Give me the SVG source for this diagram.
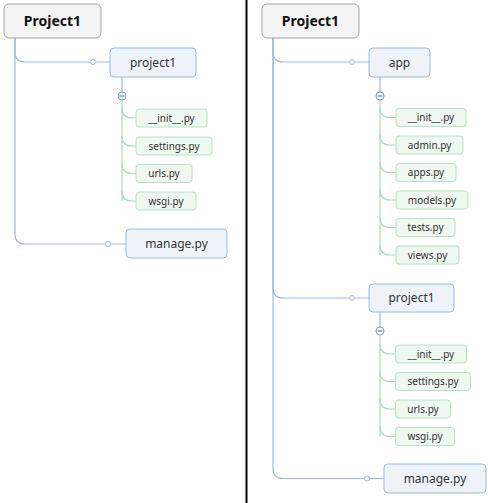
<svg xmlns="http://www.w3.org/2000/svg" width="488" height="503" viewBox="0 0 488 503">
<style>
text{font-family:"Noto Sans","Open Sans","Liberation Sans",sans-serif;fill:#333;text-anchor:middle}
.root rect{fill:#f4f4f4;stroke:#a3a3a3;stroke-width:1}
.root text{font-size:14px;font-weight:bold;fill:#111}
.l1 rect{fill:#eef3fa;stroke:#9bbbe0;stroke-width:1}
.l1 text{font-size:12px}
.leaf rect{fill:#eef7f0;stroke:#b8e2c4;stroke-width:1}
.leaf text{font-size:10px}
.bl{fill:none;stroke:#9dbce2;stroke-width:1.2}
.gr{fill:none;stroke:#a9dcb8;stroke-width:1.2}
.dot{fill:#fff;stroke:#9dbce2;stroke-width:1}
.col circle{fill:#fff;stroke:#7b9fd2;stroke-width:1}
.col line{stroke:#5a7fb5;stroke-width:1.2}
</style>
<line x1="246.5" y1="0" x2="246.5" y2="503" stroke="#000" stroke-width="2"/>
<g id="connectors">
<!-- left -->
<path class="bl" d="M15,38 V52 Q15,62 25,62 H110"/>
<path class="bl" d="M15,38 V234 Q15,244 25,244 H126"/>
<circle class="dot" cx="93" cy="62" r="2.5"/>
<circle class="dot" cx="108" cy="244" r="2.5"/>
<path class="bl" d="M122,77 V92"/>
<path class="gr" d="M122,100 V201"/>
<path class="gr" d="M122,108 Q122,118 132,118 H136"/>
<path class="gr" d="M122,136 Q122,146 132,146 H136"/>
<path class="gr" d="M122,163.5 Q122,173.5 132,173.5 H136"/>
<path class="gr" d="M122,191 Q122,201 132,201 H136"/>
<g class="col"><circle cx="122" cy="96" r="4"/><line x1="119.5" y1="96" x2="124.5" y2="96"/></g>
<!-- right -->
<path class="bl" d="M273,38 V52 Q273,62 283,62 H369"/>
<path class="bl" d="M273,38 V288 Q273,298 283,298 H369"/>
<path class="bl" d="M273,38 V468.5 Q273,478.5 283,478.5 H384"/>
<circle class="dot" cx="352" cy="62" r="2.5"/>
<circle class="dot" cx="352" cy="298" r="2.5"/>
<circle class="dot" cx="367" cy="478.5" r="2.5"/>
<path class="bl" d="M380,77 V92"/>
<path class="gr" d="M380,100 V255"/>
<path class="gr" d="M380,107.5 Q380,117.5 390,117.5 H396"/>
<path class="gr" d="M380,135 Q380,145 390,145 H396"/>
<path class="gr" d="M380,162.5 Q380,172.5 390,172.5 H396"/>
<path class="gr" d="M380,190 Q380,200 390,200 H396"/>
<path class="gr" d="M380,217.5 Q380,227.5 390,227.5 H396"/>
<path class="gr" d="M380,245 Q380,255 390,255 H396"/>
<g class="col"><circle cx="380" cy="96" r="4"/><line x1="377.5" y1="96" x2="382.5" y2="96"/></g>
<path class="bl" d="M380,312 V327"/>
<path class="gr" d="M380,335 V436.5"/>
<path class="gr" d="M380,344 Q380,354 390,354 H395.5"/>
<path class="gr" d="M380,371.5 Q380,381.5 390,381.5 H395.5"/>
<path class="gr" d="M380,399 Q380,409 390,409 H395.5"/>
<path class="gr" d="M380,426.5 Q380,436.5 390,436.5 H395.5"/>
<g class="col"><circle cx="380" cy="331" r="4"/><line x1="377.5" y1="331" x2="382.5" y2="331"/></g>
</g>
<!-- left nodes -->
<g id="root-left" class="root"><rect x="4" y="4" width="97" height="34" rx="5"/><text x="52.5" y="26">Project1</text></g>
<g id="project1-left" class="l1"><rect x="110" y="48" width="86" height="29" rx="4"/><text x="153" y="66.5">project1</text></g>
<g id="init-left" class="leaf"><rect x="136" y="109" width="71" height="18" rx="3"/><text x="171.5" y="121.5">__init__.py</text></g>
<g id="settings-left" class="leaf"><rect x="136" y="137" width="76" height="18" rx="3"/><text x="174" y="149.5">settings.py</text></g>
<g id="urls-left" class="leaf"><rect x="136" y="164.5" width="56" height="18" rx="3"/><text x="164" y="177">urls.py</text></g>
<g id="wsgi-left" class="leaf"><rect x="136" y="192" width="60" height="18" rx="3"/><text x="166" y="204.5">wsgi.py</text></g>
<g id="manage-left" class="l1"><rect x="126" y="229" width="101" height="29" rx="4"/><text x="176.5" y="247.5">manage.py</text></g>
<!-- right nodes -->
<g id="root-right" class="root"><rect x="262" y="4" width="97" height="34" rx="5"/><text x="310.5" y="26">Project1</text></g>
<g id="app" class="l1"><rect x="369" y="48" width="61" height="29" rx="4"/><text x="399.5" y="66.5">app</text></g>
<g id="app-init" class="leaf"><rect x="396" y="108.5" width="70" height="18" rx="3"/><text x="431" y="121">__init__.py</text></g>
<g id="app-admin" class="leaf"><rect x="396" y="136" width="67" height="18" rx="3"/><text x="429.5" y="148.5">admin.py</text></g>
<g id="app-apps" class="leaf"><rect x="396" y="163.5" width="60" height="18" rx="3"/><text x="426" y="176">apps.py</text></g>
<g id="app-models" class="leaf"><rect x="396" y="191" width="72" height="18" rx="3"/><text x="432" y="203.5">models.py</text></g>
<g id="app-tests" class="leaf"><rect x="396" y="218.5" width="59" height="18" rx="3"/><text x="425.5" y="231">tests.py</text></g>
<g id="app-views" class="leaf"><rect x="396" y="246" width="63" height="18" rx="3"/><text x="427.5" y="258.5">views.py</text></g>
<g id="project1-right" class="l1"><rect x="369" y="284" width="85" height="28" rx="4"/><text x="411.5" y="302">project1</text></g>
<g id="init-right" class="leaf"><rect x="395.5" y="345" width="71" height="18" rx="3"/><text x="431" y="357.5">__init__.py</text></g>
<g id="settings-right" class="leaf"><rect x="395.5" y="372.5" width="75" height="18" rx="3"/><text x="433" y="385">settings.py</text></g>
<g id="urls-right" class="leaf"><rect x="395.5" y="400" width="55" height="18" rx="3"/><text x="423" y="412.5">urls.py</text></g>
<g id="wsgi-right" class="leaf"><rect x="395.5" y="427.5" width="59" height="18" rx="3"/><text x="425" y="440">wsgi.py</text></g>
<g id="manage-right" class="l1"><rect x="384" y="464" width="102" height="29" rx="4"/><text x="435" y="482.5">manage.py</text></g>
</svg>
